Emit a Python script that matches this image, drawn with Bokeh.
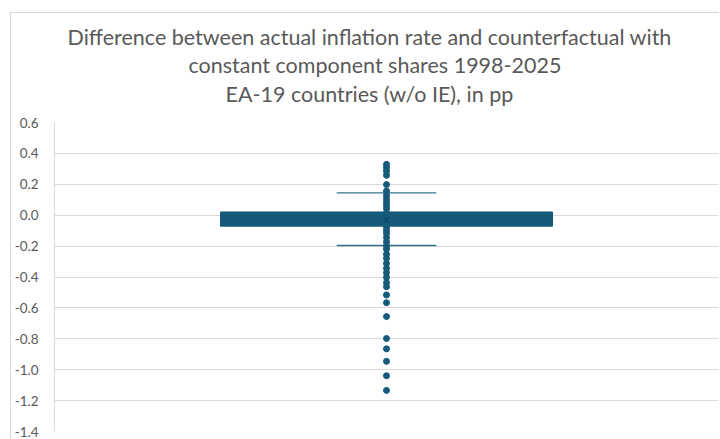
from bokeh.plotting import figure
from bokeh.models import Range1d, FixedTicker, NumeralTickFormatter, Title
from bokeh.embed import file_html
from bokeh.resources import INLINE

# ---- data ----
title_lines = [
    "Difference between actual inflation rate and counterfactual with",
    "constant component shares 1998-2025",
    "EA-19 countries (w/o IE), in pp",
]
points = [0.329, 0.308, 0.286, 0.258, 0.198, 0.157, 0.129, 0.108, 0.086, 0.065,
          0.043, 0.015, -0.011, -0.032, -0.054, -0.075, -0.097, -0.118, -0.144,
          -0.172, -0.198, -0.219, -0.252, -0.279, -0.312, -0.344, -0.372, -0.402,
          -0.437, -0.463, -0.516, -0.566, -0.656, -0.798, -0.865, -0.946, -1.039,
          -1.134]
q1 = -0.071
q3 = 0.021
median = -0.03
mean = -0.03
whisker_low = -0.196
whisker_high = 0.145
y_ticks = [0.6, 0.4, 0.2, 0.0, -0.2, -0.4, -0.6, -0.8, -1.0, -1.2, -1.4]

COL = "#155a7a"
TXT = "#595959"
GRID = "#d9d9d9"

p = figure(width=709, height=426, output_backend="svg", toolbar_location=None,
           x_range=Range1d(0, 2), y_range=Range1d(-1.4, 0.6),
           min_border_left=42, min_border_right=2, min_border_top=109,
           min_border_bottom=8)
p.styles = {"margin-left": "10px", "margin-top": "12px",
            "border-left": "1px solid #d9d9d9", "border-top": "1px solid #d9d9d9"}

# small spacer between the frame and the title block
p.add_layout(Title(text=" ", text_font_size="9px", standoff=0), "above")
# title lines, added from the frame upward
offsets = [13, 134, 171]
standoffs = [0, 0, 3]
for line, off, so in reversed(list(zip(title_lines, offsets, standoffs))):
    p.add_layout(Title(text=line, align="left", offset=off, text_font="Lato",
                       text_font_size="21.5px", text_color=TXT, vertical_align="top",
                       text_font_style="normal", standoff=so), "above")

p.outline_line_color = None
p.xaxis.visible = False
p.xgrid.grid_line_color = None
p.ygrid.grid_line_color = GRID
p.ygrid.grid_line_width = 1
p.yaxis.ticker = FixedTicker(ticks=y_ticks)
p.yaxis.formatter = NumeralTickFormatter(format="0.0")
p.yaxis.axis_line_color = GRID
p.yaxis.major_tick_line_color = None
p.yaxis.minor_tick_line_color = None
p.yaxis.major_label_text_font = "Lato"
p.yaxis.major_label_text_font_size = "13.5px"
p.yaxis.major_label_text_color = TXT
p.yaxis.major_label_standoff = 10

# box
p.vbar(x=[1], width=1.0, bottom=[q1], top=[q3], fill_color=COL, line_color=COL)
p.segment(x0=[0.5], x1=[1.5], y0=[median], y1=[median], line_color=COL, line_width=1)
# whiskers
p.segment(x0=[1, 1], x1=[1, 1], y0=[q3, q1], y1=[whisker_high, whisker_low],
          line_color=COL, line_width=1.2)
p.segment(x0=[0.85, 0.85], x1=[1.15, 1.15], y0=[whisker_high, whisker_low],
          y1=[whisker_high, whisker_low], line_color=COL, line_width=1.3, line_alpha=0.85)
# points
p.scatter(x=[1] * len(points), y=points, size=6, marker="circle",
          fill_color=COL, line_color=COL)
p.scatter(x=[1], y=[mean], size=8, marker="x", line_color="#0f4a66", line_width=1.5)

open("out.html", "w").write(file_html(p, INLINE))
